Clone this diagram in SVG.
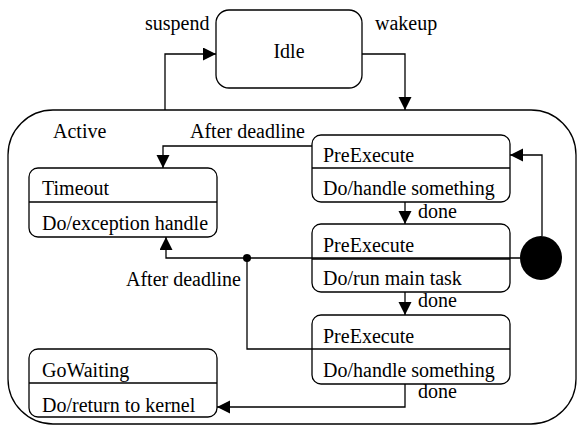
<svg xmlns="http://www.w3.org/2000/svg" width="579" height="427" viewBox="0 0 579 427">
<style>
.box{fill:none;stroke:#000;stroke-width:1.3}
.ln{fill:none;stroke:#000;stroke-width:1.3}
</style>
<defs>
<marker id="ah" markerWidth="14" markerHeight="14" refX="13" refY="6.5" orient="auto" markerUnits="userSpaceOnUse">
<path d="M0,0 L13,6.5 L0,13 Z" fill="#000"/>
</marker>
</defs>
<rect width="579" height="427" fill="#fff"/>
<g font-family="Liberation Serif, DejaVu Serif, serif" font-size="20" fill="#000">
<g id="active">
<rect class="box" x="8" y="110" width="568" height="314" rx="45" ry="45"/>
<text x="53" y="138">Active</text>
</g>
<g id="idle">
<rect class="box" x="216" y="10" width="146" height="78" rx="13" ry="13"/>
<text x="289" y="58" text-anchor="middle">Idle</text>
</g>
<g id="timeout">
<rect class="box" x="29" y="168" width="188" height="69" rx="9" ry="9"/>
<line class="ln" x1="29" y1="202" x2="217" y2="202"/>
<text x="42" y="195">Timeout</text>
<text x="42" y="230">Do/exception handle</text>
</g>
<g id="pre1">
<rect class="box" x="312" y="135" width="198" height="67" rx="9" ry="9"/>
<line class="ln" x1="312" y1="168" x2="510" y2="168"/>
<text x="323" y="162">PreExecute</text>
<text x="323" y="195">Do/handle something</text>
</g>
<g id="pre2">
<rect class="box" x="312" y="224" width="198" height="68" rx="9" ry="9"/>
<line class="ln" x1="312" y1="259" x2="510" y2="259"/>
<text x="323" y="252">PreExecute</text>
<text x="323" y="285">Do/run main task</text>
</g>
<g id="pre3">
<rect class="box" x="312" y="315" width="198" height="69" rx="9" ry="9"/>
<line class="ln" x1="312" y1="349" x2="510" y2="349"/>
<text x="323" y="343">PreExecute</text>
<text x="323" y="377">Do/handle something</text>
</g>
<g id="gowaiting">
<rect class="box" x="29" y="349" width="188" height="68" rx="9" ry="9"/>
<line class="ln" x1="29" y1="383" x2="217" y2="383"/>
<text x="42" y="377">GoWaiting</text>
<text x="42" y="412">Do/return to kernel</text>
</g>
<g id="initial">
<ellipse cx="541" cy="258" rx="21" ry="22" fill="#000"/>
</g>
<g id="connectors">
<polyline class="ln" points="165,110 165,54 216,54" marker-end="url(#ah)"/>
<text x="145" y="30">suspend</text>
<polyline class="ln" points="362,54 405,54 405,110" marker-end="url(#ah)"/>
<text x="375" y="30">wakeup</text>
<polyline class="ln" points="312,146 163,146 163,168" marker-end="url(#ah)"/>
<text x="190" y="138">After deadline</text>
<polyline class="ln" points="520,258 166,258 166,237" marker-end="url(#ah)"/>
<circle cx="247" cy="258" r="4" fill="#000"/>
<polyline class="ln" points="247,258 247,349 312,349"/>
<text x="126" y="286">After deadline</text>
<polyline class="ln" points="542,236 542,155 510,155" marker-end="url(#ah)"/>
<line class="ln" x1="405" y1="202" x2="405" y2="224" marker-end="url(#ah)"/>
<text x="418" y="218">done</text>
<line class="ln" x1="405" y1="292" x2="405" y2="315" marker-end="url(#ah)"/>
<text x="418" y="307">done</text>
<polyline class="ln" points="405,384 405,407 217,407" marker-end="url(#ah)"/>
<text x="418" y="398">done</text>
</g>
</g>
</svg>
